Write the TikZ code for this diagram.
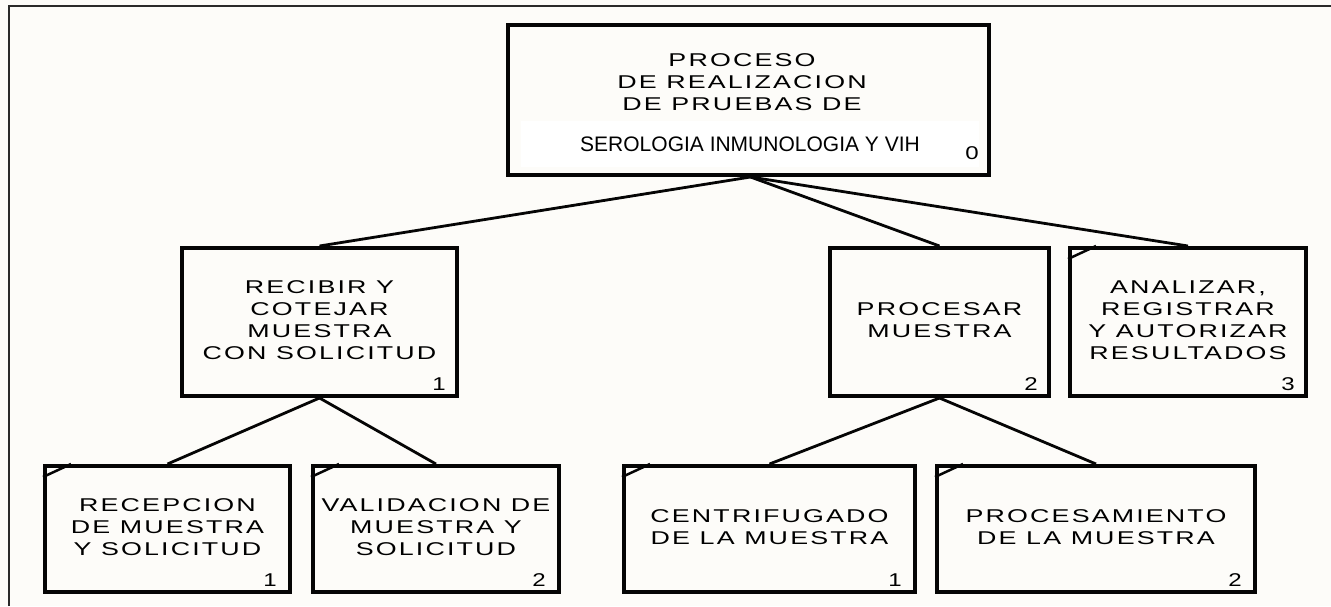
\documentclass[tikz,border=0pt]{standalone}
\usepackage{fontspec}
\usepackage{graphicx}
\usetikzlibrary{positioning,calc}
\newfontfamily\boxfont[LetterSpace=8]{Liberation Sans}
\newfontfamily\plainfont{Liberation Sans}
\newcommand{\boxtext}[1]{\scalebox{1.45}[1]{\begin{tabular}{@{}c@{}}#1\end{tabular}}}
\newcommand{\boxnum}[1]{\scalebox{1.3}[1]{#1}}
\definecolor{DiagPaper}{HTML}{FDFCF9}
\definecolor{DiagInk}{HTML}{050505}
\definecolor{DiagFrame}{HTML}{2A2A2A}

\begin{document}
\begin{tikzpicture}[
  x=1pt, y=-1pt,
  box/.style={draw=DiagInk, line width=4pt, fill=DiagPaper, inner sep=0pt,
              anchor=north west, font=\boxfont\fontsize{18.5}{22}\selectfont},
  title/.style={font=\boxfont\fontsize{18.5}{22}\selectfont, inner sep=0pt},
  subtitle/.style={fill=white, inner sep=0pt, font=\plainfont\fontsize{21}{21}\selectfont},
  num/.style={font=\plainfont\fontsize{18.5}{18}\selectfont, inner sep=0pt, anchor=base east},
  link/.style={draw=DiagInk, line width=2.8pt},
  corner/.style={draw=DiagInk, line width=2.5pt},
]

\fill[DiagPaper] (0,0) rectangle (1331,606);
\useasboundingbox (0,0) rectangle (1331,606);

% --- Frame ---
\draw[DiagFrame, line width=2pt] (9,606) -- (9,6) -- (1331,6);

% --- Root ---
\node[box, minimum width=481, minimum height=150] (root) at (506,23) {};
\node[subtitle, minimum width=458, minimum height=46] (sub) at (750,144)
  {SEROLOGIA INMUNOLOGIA Y VIH};
\node[title] (head) at (742,84) {\boxtext{PROCESO\\DE REALIZACION\\DE PRUEBAS DE}};
\node[num] (n0) at ($(root.south east)+(-12,-18)$) {\boxnum{0}};

% --- Level 1 ---
\node[box, minimum width=275, minimum height=148] (recibir) at (180,246)
  {\boxtext{RECIBIR Y\\COTEJAR\\MUESTRA\\CON SOLICITUD}};
\node[num] (n1) at ($(recibir.south east)+(-13,-8)$) {\boxnum{1}};

\node[box, minimum width=219, minimum height=148] (procesar) at (828,246)
  {\boxtext{PROCESAR\\MUESTRA}};
\node[num] (n2) at ($(procesar.south east)+(-13,-8)$) {\boxnum{2}};

\node[box, minimum width=236, minimum height=148] (analizar) at (1068,246)
  {\boxtext{ANALIZAR,\\REGISTRAR\\Y AUTORIZAR\\RESULTADOS}};
\node[num] (n3) at ($(analizar.south east)+(-13,-8)$) {\boxnum{3}};

% --- Level 2 ---
\node[box, minimum width=245, minimum height=126] (recepcion) at (43,464)
  {\boxtext{RECEPCION\\DE MUESTRA\\Y SOLICITUD}};
\node[num] (n11) at ($(recepcion.south east)+(-15,-8)$) {\boxnum{1}};

\node[box, minimum width=246, minimum height=126] (validacion) at (311,464)
  {\boxtext{VALIDACION DE\\MUESTRA Y\\SOLICITUD}};
\node[num] (n12) at ($(validacion.south east)+(-15,-8)$) {\boxnum{2}};

\node[box, minimum width=291, minimum height=126] (centrifugado) at (622,464)
  {\boxtext{CENTRIFUGADO\\DE LA MUESTRA}};
\node[num] (n21) at ($(centrifugado.south east)+(-15,-8)$) {\boxnum{1}};

\node[box, minimum width=318, minimum height=126] (procesamiento) at (935,464)
  {\boxtext{PROCESAMIENTO\\DE LA MUESTRA}};
\node[num] (n22) at ($(procesamiento.south east)+(-15,-8)$) {\boxnum{2}};

% corner ticks
\foreach \b in {analizar, recepcion, validacion, centrifugado, procesamiento}
  \draw[corner] ($(\b.north west)+(0,13)$) -- ($(\b.north west)+(28,0)$);

% --- Connectors ---
\draw[link] ($(root.south)+(2,0)$) -- (recibir.north);
\draw[link] ($(root.south)+(2,0)$) -- (procesar.north);
\draw[link] ($(root.south)+(2,0)$) -- (analizar.north);

\draw[link] (recibir.south) -- (recepcion.north);
\draw[link] (recibir.south) -- (validacion.north);

\draw[link] (procesar.south) -- (centrifugado.north);
\draw[link] (procesar.south) -- (procesamiento.north);

\end{tikzpicture}
\end{document}
